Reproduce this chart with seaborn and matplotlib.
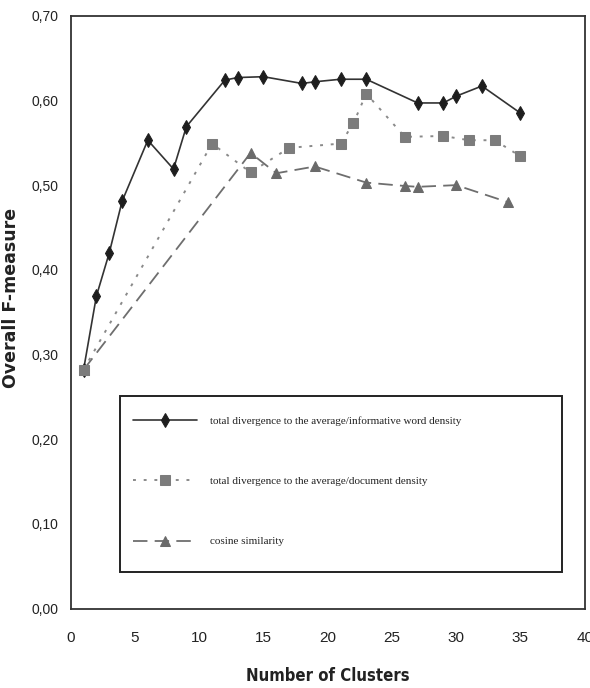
import matplotlib
matplotlib.use("Agg")
import matplotlib.pyplot as plt
from matplotlib.patches import Rectangle
import seaborn as sns
import pandas as pd

# ---- data ----
div_word_x = [1, 2, 3, 4, 6, 8, 9, 12, 13, 15, 18, 19, 21, 23, 27, 29, 30, 32, 35]
div_word_y = [0.282, 0.369, 0.420, 0.481, 0.553, 0.519, 0.569, 0.624, 0.627, 0.628,
              0.620, 0.622, 0.625, 0.625, 0.597, 0.597, 0.605, 0.617, 0.585]

div_doc_x = [1, 11, 14, 17, 21, 22, 23, 26, 29, 31, 33, 35]
div_doc_y = [0.282, 0.549, 0.515, 0.544, 0.549, 0.573, 0.608, 0.557, 0.558, 0.553, 0.553, 0.534]

cosine_x = [1, 14, 16, 19, 23, 26, 27, 30, 34]
cosine_y = [0.282, 0.538, 0.514, 0.522, 0.503, 0.499, 0.498, 0.500, 0.480]

series_labels = ["total divergence to the average/informative word density",
                 "total divergence to the average/document density",
                 "cosine similarity"]

x_ticks = [0, 5, 10, 15, 20, 25, 30, 35, 40]
y_ticks = [0.0, 0.1, 0.2, 0.3, 0.4, 0.5, 0.6, 0.7]
y_tick_labels = ["0,00", "0,10", "0,20", "0,30", "0,40", "0,50", "0,60", "0,70"]

x_title = "Number of Clusters"
y_title = "Overall F-measure"

# ---- style ----
sns.set_style("white")
plt.rcParams["font.family"] = ["Liberation Sans", "DejaVu Sans"]

fig = plt.figure(figsize=(5.9, 6.88), dpi=100)
ax = fig.add_axes([70.7 / 590, 1 - 608.7 / 688, 514 / 590, 593 / 688])

df1 = pd.DataFrame({"x": div_word_x, "y": div_word_y})
df2 = pd.DataFrame({"x": div_doc_x, "y": div_doc_y})
df3 = pd.DataFrame({"x": cosine_x, "y": cosine_y})

sns.lineplot(data=df3, x="x", y="y", ax=ax, estimator=None, sort=False,
             color="#6e6e6e", linewidth=1.3, linestyle=(0, (8, 4)),
             marker="^", markersize=7.5, markerfacecolor="#6a6a6a",
             markeredgecolor="#6a6a6a", label=series_labels[2])
sns.lineplot(data=df1, x="x", y="y", ax=ax, estimator=None, sort=False,
             color="#333333", linewidth=1.2, linestyle="-",
             marker="d", markersize=7.5, markerfacecolor="#1e1e1e",
             markeredgecolor="#1e1e1e", label=series_labels[0])
sns.lineplot(data=df2, x="x", y="y", ax=ax, estimator=None, sort=False,
             color="#8a8a8a", linewidth=1.4, linestyle=(0, (1.5, 4)),
             marker="s", markersize=7.5, markerfacecolor="#7c7c7c",
             markeredgecolor="#7c7c7c", label=series_labels[1])

ax.set_xlim(0, 40)
ax.set_ylim(0, 0.70)
ax.set_xticks(x_ticks)
ax.set_xticklabels([str(t) for t in x_ticks])
ax.set_yticks(y_ticks)
ax.set_yticklabels(y_tick_labels)

ax.tick_params(axis="both", which="major", direction="out", length=4, width=1.2,
               color="#222222", labelcolor="#222222")
ax.tick_params(axis="x", pad=12, labelsize=11)
ax.tick_params(axis="y", pad=5, labelsize=10)

for s in ax.spines.values():
    s.set_color("#333333")
    s.set_linewidth(1.3)

ax.set_xlabel(x_title, fontsize=12, fontweight="bold", color="#222222",
              family=["DejaVu Sans"], fontstretch="condensed")
ax.xaxis.set_label_coords(0.5, -0.098)
ax.set_ylabel(y_title, fontsize=12.5, fontweight="bold", color="#222222",
              family=["DejaVu Sans"])
ax.yaxis.set_label_coords(-0.098, 0.524)

# legend box
ax.add_patch(Rectangle((0.0959, 0.0619), 0.860, 0.2968, transform=ax.transAxes,
                       facecolor="white", edgecolor="#222222", linewidth=1.4,
                       zorder=4))

handles, labels = ax.get_legend_handles_labels()
order = [labels.index(l) for l in series_labels]
leg = ax.legend([handles[i] for i in order], [labels[i] for i in order],
                loc="upper left", bbox_to_anchor=(0.1212, 0.325),
                frameon=False,
                prop={"family": ["Liberation Serif", "DejaVu Serif"], "size": 8},
                handlelength=5.76, handletextpad=1.17, labelspacing=4.55,
                borderpad=0, numpoints=1, borderaxespad=0)
leg.set_zorder(5)
for t in leg.get_texts():
    t.set_color("#222222")

fig.savefig("out.png", dpi=100)
